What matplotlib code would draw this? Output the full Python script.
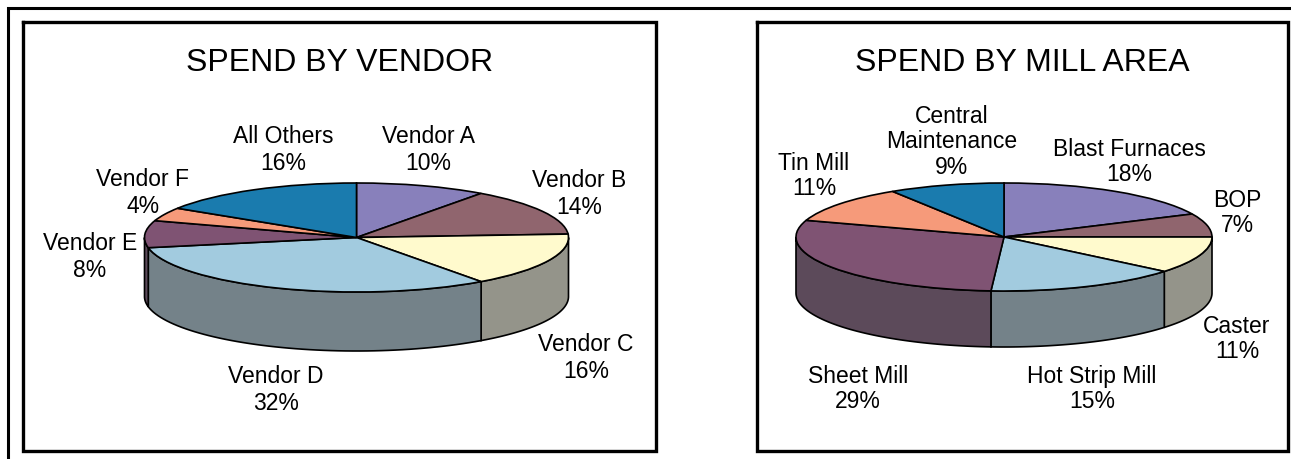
import matplotlib
matplotlib.use('Agg')
import matplotlib.pyplot as plt
import numpy as np

W, H = 1291, 460

vendor_names = ['Vendor A', 'Vendor B', 'Vendor C', 'Vendor D', 'Vendor E', 'Vendor F', 'All Others']
vendor_pct = [10, 14, 16, 32, 8, 4, 16]
area_names = ['Blast Furnaces', 'BOP', 'Caster', 'Hot Strip Mill', 'Sheet Mill', 'Tin Mill', 'Central\nMaintenance']
area_pct = [18, 7, 11, 15, 29, 11, 9]

# top colours and the darker wall colours, one per slice
top_colors = ['#8880bb', '#90656e', '#fffacd', '#a2cbdf', '#7f5373', '#f69a7a', '#1a7bae']
side_colors = ['#6a6592', '#6e4f56', '#94948a', '#748289', '#5c4a5a', '#b87a62', '#155f86']

# pixel centres of the labels
vendor_pos = [(428, 150), (579, 194), (586, 358), (276, 390), (90, 257), (143, 193), (283, 150)]
area_pos = [(1129, 162), (1237, 213), (1237, 339), (1092, 389), (858, 389), (814, 176), (952, 142)]


def draw_pie(fig, values, cx, cy, rx, ry, depth):
    ax = fig.add_axes([(cx - rx) / W, (H - (cy + ry + depth)) / H, 2 * rx / W, (2 * ry + depth) / H])
    low = -1 - depth / ry

    # walls first, only the part facing the viewer
    edges = np.cumsum([0] + list(values)) / sum(values) * 360
    for i in range(len(values)):
        a0 = max(edges[i], 90)
        a1 = min(edges[i + 1], 270)
        if a1 <= a0:
            continue
        t = np.radians(np.linspace(a0, a1, 60))
        x = np.sin(t)
        y = np.cos(t)
        ax.fill(np.r_[x, x[::-1]], np.r_[y, y[::-1] - depth / ry], facecolor=side_colors[i],
                edgecolor='black', linewidth=1.2, clip_on=False, zorder=1)

    wedges, _ = ax.pie(values, colors=top_colors, startangle=90, counterclock=False,
                       wedgeprops={'edgecolor': 'black', 'linewidth': 1.2, 'clip_on': False})
    for w in wedges:
        w.set_zorder(2)
    ax.set_aspect('auto')
    ax.set_xlim(-1, 1)
    ax.set_ylim(low, 1)
    ax.axis('off')


def main():
    plt.rcParams['font.family'] = ['Liberation Sans', 'DejaVu Sans']
    fig = plt.figure(figsize=(W / 100, H / 100), dpi=100, facecolor='white')

    bg = fig.add_axes([0, 0, 1, 1])
    bg.set_xlim(0, W)
    bg.set_ylim(H, 0)
    bg.axis('off')

    # outer frame runs off the right and bottom edges
    bg.plot([8, 8, W + 5], [H + 5, 9, 9], color='black', lw=2.2, solid_joinstyle='miter')
    bg.plot([23, 23, 656, 656, 23], [23, 452, 452, 23, 23], color='black', lw=2.4, solid_joinstyle='miter')
    bg.plot([757, 757, 1288, 1288, 757], [23, 452, 452, 23, 23], color='black', lw=2.4, solid_joinstyle='miter')

    bg.text(340, 63, 'SPEND BY VENDOR', fontsize=23, ha='center', va='center')
    bg.text(1022.5, 63, 'SPEND BY MILL AREA', fontsize=23, ha='center', va='center')

    for name, pct, pos in zip(vendor_names, vendor_pct, vendor_pos):
        bg.text(pos[0], pos[1], f'{name}\n{pct}%', fontsize=16.5, ha='center', va='center',
                multialignment='center', linespacing=1.2)
    for name, pct, pos in zip(area_names, area_pct, area_pos):
        bg.text(pos[0], pos[1], f'{name}\n{pct}%', fontsize=16.5, ha='center', va='center',
                multialignment='center', linespacing=1.12)

    draw_pie(fig, vendor_pct, 356.5, 238.5, 212, 54.5, 59)
    draw_pie(fig, area_pct, 1004, 238, 208, 54, 56)

    fig.savefig('out.png', dpi=100)


main()
